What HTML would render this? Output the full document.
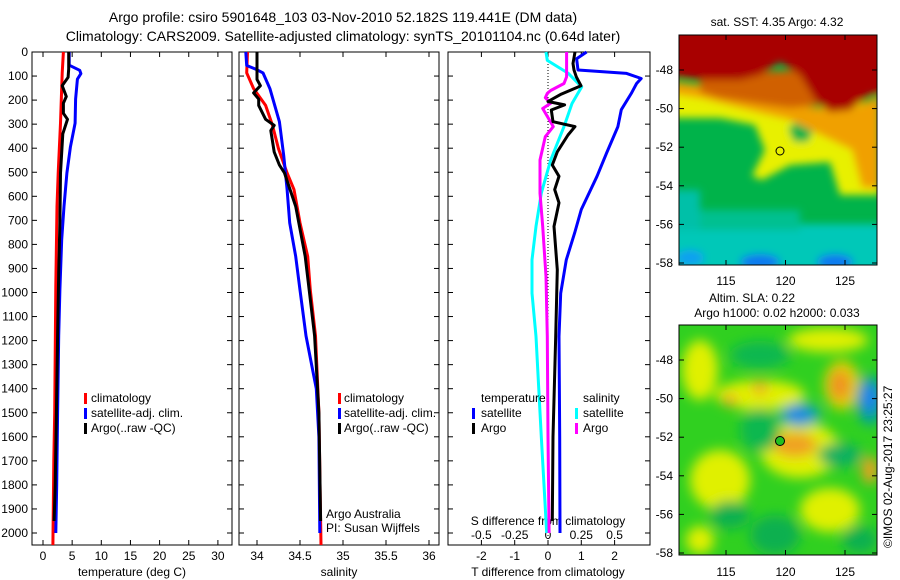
<!DOCTYPE html>
<html><head><meta charset="utf-8">
<style>
html,body{margin:0;padding:0;background:#fff;}
svg{display:block;font-family:"Liberation Sans",sans-serif;}
text{font-size:12px;fill:#000;}
</style></head>
<body>
<svg id="chart" width="900" height="580" viewBox="0 0 900 580" xmlns="http://www.w3.org/2000/svg">
<defs>
<filter id="blur1" x="-20%" y="-20%" width="140%" height="140%"><feGaussianBlur stdDeviation="4"/></filter>
<filter id="blur2" x="-50%" y="-50%" width="200%" height="200%"><feGaussianBlur stdDeviation="6"/></filter>
<clipPath id="clipMap1"><rect x="679" y="35" width="198" height="230"/></clipPath>
<clipPath id="clipMap2"><rect x="679" y="325" width="198" height="230"/></clipPath>
</defs>
<text x="343" y="22" text-anchor="middle" style="font-size:14px">Argo profile: csiro 5901648_103 03-Nov-2010 52.182S 119.441E (DM data)</text>
<text x="343" y="41" text-anchor="middle" style="font-size:14px">Climatology: CARS2009. Satellite-adjusted climatology: synTS_20101104.nc (0.64d later)</text>

<!-- SST map -->
<g clip-path="url(#clipMap1)">
<rect x="679" y="35" width="198" height="230" fill="#00b34a"/>
<g filter="url(#blur1)">
<rect x="660" y="224" width="240" height="60" fill="#00c8b8"/>
<rect x="660" y="190" width="40" height="40" fill="#00c0a8"/>
<rect x="700" y="210" width="100" height="20" fill="#00c090"/>
<ellipse cx="760" cy="262" rx="20" ry="8" fill="#1078f0"/>
<ellipse cx="835" cy="262" rx="18" ry="8" fill="#1078f0"/>
<ellipse cx="690" cy="258" rx="14" ry="8" fill="#10a0f0"/>
<polygon fill="#e8f000" points="660,85 740,105 800,110 880,100 880,195 840,195 830,162 790,165 762,180 752,176 765,150 755,125 720,118 660,118"/>
<polygon fill="#00b34a" points="788,128 800,120 814,128 808,142 794,142"/>
<polygon fill="#f0a000" points="660,80 700,85 760,100 820,108 850,110 880,95 880,188 862,188 852,150 810,130 790,120 760,113 700,98 660,92"/>
<polygon fill="#d06000" points="700,80 760,72 800,70 820,105 790,108 760,104 720,98 700,92"/>
<polygon fill="#a80000" points="660,20 900,20 900,90 870,95 850,110 830,112 815,100 800,75 780,62 760,75 740,80 700,80 660,75"/>
</g>
<circle cx="780" cy="151" r="4" fill="none" stroke="#000" stroke-width="1"/>
</g>
<rect x="679" y="35" width="198" height="230" fill="none" stroke="#000" stroke-width="1"/>
<text x="777" y="26" text-anchor="middle">sat. SST: 4.35 Argo: 4.32</text>

<!-- SLA map -->
<g clip-path="url(#clipMap2)">
<rect x="679" y="325" width="198" height="230" fill="#30d020"/>
<g filter="url(#blur2)">
<ellipse cx="700" cy="370" rx="18" ry="30" fill="#e0f000"/>
<ellipse cx="760" cy="395" rx="45" ry="15" fill="#e0f000"/>
<ellipse cx="760" cy="355" rx="30" ry="14" fill="#10b850"/>
<ellipse cx="828" cy="340" rx="40" ry="12" fill="#e0f000"/>
<ellipse cx="842" cy="385" rx="18" ry="25" fill="#e0d000"/>
<ellipse cx="840" cy="385" rx="10" ry="15" fill="#f09020"/>
<ellipse cx="760" cy="388" rx="8" ry="6" fill="#f0a020"/>
<ellipse cx="730" cy="400" rx="7" ry="6" fill="#f0a020"/>
<ellipse cx="800" cy="450" rx="40" ry="28" fill="#e0f000"/>
<ellipse cx="795" cy="445" rx="22" ry="12" fill="#f0a020"/>
<ellipse cx="870" cy="400" rx="14" ry="25" fill="#00a0a0"/>
<ellipse cx="870" cy="398" rx="8" ry="14" fill="#2080f0"/>
<ellipse cx="800" cy="415" rx="20" ry="12" fill="#10a0c0"/>
<ellipse cx="798" cy="415" rx="10" ry="6" fill="#2080f0"/>
<ellipse cx="760" cy="430" rx="20" ry="22" fill="#10b850"/>
<ellipse cx="840" cy="455" rx="22" ry="12" fill="#10b060"/>
<ellipse cx="870" cy="470" rx="8" ry="14" fill="#f0a020"/>
<ellipse cx="720" cy="480" rx="30" ry="30" fill="#e0f000"/>
<ellipse cx="730" cy="515" rx="20" ry="14" fill="#10b050"/>
<ellipse cx="775" cy="535" rx="25" ry="20" fill="#10b050"/>
<ellipse cx="830" cy="510" rx="30" ry="22" fill="#e0f000"/>
<ellipse cx="700" cy="540" rx="14" ry="14" fill="#e0f000"/>
<ellipse cx="860" cy="540" rx="18" ry="14" fill="#10b050"/>
</g>
<circle cx="780" cy="441" r="4.5" fill="#20c020" stroke="#000" stroke-width="1"/>
</g>
<rect x="679" y="325" width="198" height="230" fill="none" stroke="#000" stroke-width="1"/>
<text x="752" y="302" text-anchor="middle">Altim. SLA: 0.22</text>
<text x="777" y="317" text-anchor="middle">Argo h1000: 0.02 h2000: 0.033</text>
<text transform="translate(892,548) rotate(-90)" x="0" y="0">©IMOS 02-Aug-2017 23:25:27</text>
<g id="dyn"></g>
</svg>
<script>
// ---- data (depth in m) ----
const depthTicks = [0,100,200,300,400,500,600,700,800,900,1000,1100,1200,1300,1400,1500,1600,1700,1800,1900,2000];
const tempTicks = [0,5,10,15,20,25,30];
const salTicks = [34,34.5,35,35.5,36];
const salTickLabels = ["34","34.5","35","35.5","36"];
const tdiffTicks = [-2,-1,0,1,2];
const sdiffTicks = [-0.5,-0.25,0,0.25,0.5];
const sdiffTickLabels = ["-0.5","-0.25","0","0.25","0.5"];

const tClimDepth = [0,87,296,503,642,975,1500,1700,2050];
const tClimVal   = [3.5,3.3,3.0,2.6,2.4,2.2,2.0,1.85,1.7];
const tSatDepth  = [0,55,76,90,113,196,296,395,503,642,780,988,1180,1500,1800,2000];
const tSatVal    = [4.5,4.5,6.3,6.5,5.9,5.6,5.5,4.7,4.1,3.6,3.2,2.9,2.7,2.5,2.35,2.2];
const tArgoDepth = [0,70,105,140,185,213,255,280,340,503,710,918,1180,1500,1800,1950];
const tArgoVal   = [4.4,4.4,4.3,3.3,4.0,3.5,3.5,4.2,3.4,3.0,2.9,2.7,2.5,2.3,2.1,1.9];

const sClimDepth = [0,87,152,222,305,402,503,572,710,850,990,1180,1500,2050];
const sClimVal   = [33.89,33.88,33.96,34.1,34.18,34.25,34.35,34.43,34.5,34.59,34.62,34.68,34.72,34.744];
const sSatDepth  = [0,56,72,87,152,290,430,572,710,850,990,1180,1400,1600,2000];
const sSatVal    = [33.87,33.88,33.99,34.07,34.15,34.26,34.31,34.35,34.38,34.45,34.5,34.57,34.69,34.72,34.73];
const sArgoDepth = [0,80,114,140,170,196,222,280,305,327,416,470,503,642,850,1060,1180,1500,1950];
const sArgoVal   = [34.0,34.0,34.0,34.04,33.96,34.02,34.02,34.1,34.2,34.16,34.2,34.26,34.32,34.45,34.56,34.63,34.67,34.72,34.74];

const dTSatDepth = [0,28,75,89,110,131,172,240,310,420,517,655,753,864,1003,1183,1600,2000];
const dTSatVal   = [1.16,0.86,0.9,2.36,2.8,2.66,2.5,2.2,2.1,1.76,1.47,1.0,0.8,0.55,0.38,0.33,0.35,0.36];
const dTArgoDepth = [0,48,75,103,140,175,206,220,241,290,310,345,415,470,517,572,627,725,905,1183,1600,1950];
const dTArgoVal   = [0.81,0.75,0.78,0.85,0.99,0.4,0.0,0.5,0.1,0.15,0.81,0.6,0.28,0.13,0.33,0.2,0.33,0.18,0.28,0.23,0.15,0.13];
const dSSatDepth = [0,35,89,145,214,310,449,587,725,864,1003,1183,1600,2000];
const dSSatVal   = [-0.015,-0.005,0.153,0.253,0.18,0.12,0.02,-0.05,-0.09,-0.12,-0.12,-0.09,-0.05,-0.01];
const dSArgoDepth = [0,103,131,160,172,190,213,235,310,352,449,587,725,933,1183,1600,2000];
const dSArgoVal   = [0.14,0.14,0.12,0.02,-0.005,-0.02,0.02,-0.04,0.04,-0.02,-0.06,-0.06,-0.04,-0.015,-0.005,0.0,0.008];

const latTicks = [-48,-50,-52,-54,-56,-58];
const lonTicks = [115,120,125];

// ---- axes ----
const NS = "http://www.w3.org/2000/svg";
const g = document.getElementById('dyn');
const TOP = 52, BOT = 545;
function yDepth(d){ return TOP + d*0.2405; }
function xTemp(t){ return 43 + 5.83*t; }
function xSal(s){ return 257 + 86*(s-34); }
function xTd(t){ return 548 + 33.3*t; }
function xSd(s){ return 548 + 133.2*s; }
function yLat1(l){ return 70 + (-48 - l)*19.3; }
function yLat2(l){ return 360 + (-48 - l)*19.3; }
function xLon(l){ return 726 + (l-115)*11.9; }

function mk(tag, attrs, parent){
  const e = document.createElementNS(NS, tag);
  for (const k in attrs) e.setAttribute(k, attrs[k]);
  (parent||g).appendChild(e);
  return e;
}
function txt(x,y,s,anchor){
  const e = mk('text',{x:x,y:y,'text-anchor':anchor||'middle'});
  e.textContent = s;
  return e;
}
function series(depths, vals, xf, color, name){
  let d = '';
  for (let i=0;i<depths.length;i++){
    d += (i? 'L':'M') + xf(vals[i]).toFixed(1) + ',' + yDepth(depths[i]).toFixed(1);
  }
  const p = mk('path',{d:d,fill:'none',stroke:color,'stroke-width':3,'stroke-linejoin':'round'});
  
  
}
function frame(x1,x2,name){
  const r = mk('rect',{x:x1,y:TOP,width:x2-x1,height:BOT-TOP,fill:'none',stroke:'#000','stroke-width':1});
  
  
  depthTicks.forEach(d=>{
    const y = yDepth(d);
    mk('line',{x1:x1,x2:x1+5,y1:y,y2:y,stroke:'#000'});
    mk('line',{x1:x2-5,x2:x2,y1:y,y2:y,stroke:'#000'});
  });
}
function xticks(ticks, xf, labels, y, name){
  ticks.forEach((t,i)=>{
    const x = xf(t);
    mk('line',{x1:x,x2:x,y1:BOT,y2:BOT-5,stroke:'#000'});
    mk('line',{x1:x,x2:x,y1:TOP,y2:TOP+5,stroke:'#000'});
    const e = txt(x,y,labels? labels[i] : String(t));
    
    
  });
}

// panel 1 temperature
frame(32,232,'temperature-panel');
depthTicks.forEach(d=>{
  const e = txt(28, yDepth(d)+4, String(d), 'end');
  
  
});
xticks(tempTicks, xTemp, null, 560, 'temperature-tick-label');
let t1 = txt(132,576,'temperature (deg C)');


series(tClimDepth,tClimVal,xTemp,'#f00','temp-climatology-line');
series(tSatDepth,tSatVal,xTemp,'#00f','temp-satellite-line');
series(tArgoDepth,tArgoVal,xTemp,'#000','temp-argo-line');

// panel 2 salinity
frame(239,439,'salinity-panel');
xticks(salTicks, xSal, salTickLabels, 560, 'salinity-tick-label');
let t2 = txt(339,576,'salinity');


series(sClimDepth,sClimVal,xSal,'#f00','sal-climatology-line');
series(sSatDepth,sSatVal,xSal,'#00f','sal-satellite-line');
series(sArgoDepth,sArgoVal,xSal,'#000','sal-argo-line');

// panel 3 differences
frame(448,650,'difference-panel');
mk('line',{x1:xTd(0),x2:xTd(0),y1:TOP,y2:BOT,stroke:'#000','stroke-dasharray':'1,2'});
xticks(tdiffTicks, xTd, null, 560, 'tdiff-tick-label');
sdiffTicks.forEach((s,i)=>{
  const e = txt(xSd(s),539,sdiffTickLabels[i]);
  
  
});
let t3 = txt(548,576,'T difference from climatology');


let t4 = txt(548,525,'S difference from climatology');


series(dSSatDepth,dSSatVal,xSd,'#0ff','sdiff-satellite-line');
series(dSArgoDepth,dSArgoVal,xSd,'#f0f','sdiff-argo-line');
series(dTSatDepth,dTSatVal,xTd,'#00f','tdiff-satellite-line');
series(dTArgoDepth,dTArgoVal,xTd,'#000','tdiff-argo-line');

// legends
function legendEntry(mx, tx, y, color, label){
  const m = mk('rect',{x:mx,y:y-9,width:3,height:11,fill:color});
  
  
  const e = txt(tx,y,label,'start');
  
  
}
legendEntry(84,91,402,'#f00','climatology');
legendEntry(84,91,417,'#00f','satellite-adj. clim.');
legendEntry(84,91,432,'#000','Argo(..raw -QC)');
legendEntry(338,344,402,'#f00','climatology');
legendEntry(338,344,417,'#00f','satellite-adj. clim.');
legendEntry(338,344,432,'#000','Argo(..raw -QC)');
let lt = txt(481,402,'temperature','start');


let ls = txt(583,402,'salinity','start');


legendEntry(472,481,417,'#00f','satellite');
legendEntry(472,481,432,'#000','Argo');
legendEntry(575,583,417,'#0ff','satellite');
legendEntry(575,583,432,'#f0f','Argo');

let a1 = txt(326,518,'Argo Australia','start');


let a2 = txt(326,532,'PI: Susan Wijffels','start');



// map ticks
latTicks.forEach(l=>{
  [[yLat1(l)],[yLat2(l)]].forEach(([y])=>{
    mk('line',{x1:679,x2:684,y1:y,y2:y,stroke:'#000'});
    mk('line',{x1:872,x2:877,y1:y,y2:y,stroke:'#000'});
    const e = txt(673,y+4,String(l),'end');
    
    
  });
});
lonTicks.forEach(l=>{
  const x = xLon(l);
  [[35,265,285],[325,555,576]].forEach(([yt,yb,ly])=>{
    mk('line',{x1:x,x2:x,y1:yt,y2:yt+5,stroke:'#000'});
    mk('line',{x1:x,x2:x,y1:yb-5,y2:yb,stroke:'#000'});
    const e = txt(x,ly,String(l));
    
    
  });
});
</script>
</body></html>
